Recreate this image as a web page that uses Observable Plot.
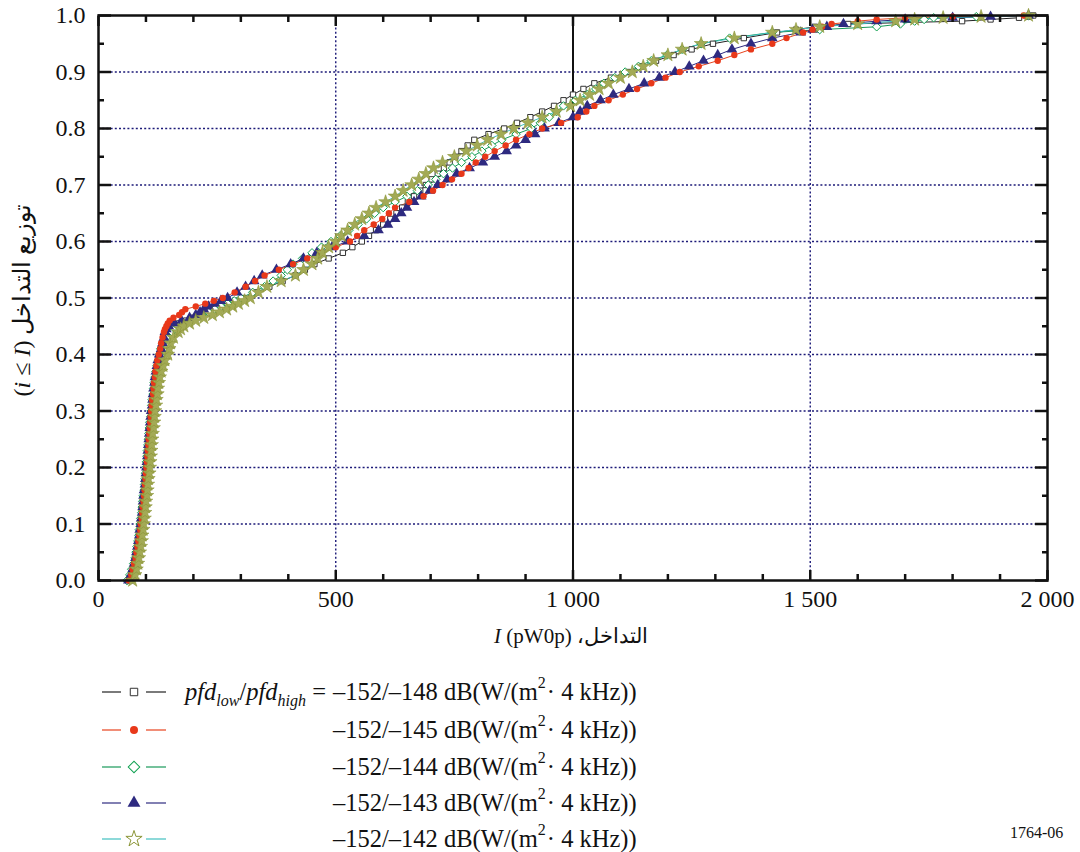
<!DOCTYPE html>
<html>
<head>
<meta charset="utf-8">
<script src="https://cdn.jsdelivr.net/npm/d3@7"></script>
<script src="https://cdn.jsdelivr.net/npm/@observablehq/plot@0.6"></script>
<style>
  html, body { margin: 0; padding: 0; background: #fff; }
  #wrap { position: relative; width: 1080px; height: 852px; overflow: hidden; font-family: "Liberation Serif", "Times New Roman", serif; color: #111; }
  #chart { position: absolute; left: 0; top: 0; }
  .row { position: absolute; left: 0; height: 30px; width: 1080px; }
  .sym { position: absolute; left: 98px; top: 0; }
  .num { position: absolute; left: 333px; top: 0; font-size: 24.5px; line-height: 30px; white-space: nowrap; }
  .pfd { position: absolute; right: 754px; top: 0; font-size: 24.5px; line-height: 30px; white-space: nowrap; }
  .pfd .sb { font-size: 16px; position: relative; top: 6px; font-style: italic; }
  .num .sp { font-size: 16px; position: relative; top: -12px; margin-right: 1px; }
  #code { position: absolute; left: 1010px; top: 823px; font-size: 16px; line-height: 20px; }
</style>
</head>
<body>
<div id="wrap">
  <div id="chart"></div>
  <div id="legend"></div>
  <div id="code">1764-06</div>
</div>
<script>
// ---- data ----
// cumulative probability levels shared by every series
const levels = [
  0.00,0.01,0.02,0.03,0.04,0.05,0.06,0.07,0.08,0.09,0.10,0.11,0.12,0.13,0.14,0.15,0.16,0.17,0.18,0.19,0.20,
  0.21,0.22,0.23,0.24,0.25,0.26,0.27,0.28,0.29,0.30,0.31,0.32,0.33,0.34,0.35,0.36,0.37,0.38,0.39,0.40,
  0.41,0.42,0.43,0.44,
  0.445,0.45,0.455,0.46,0.465,0.47,0.475,0.48,0.485,0.49,0.495,0.50,
  0.51,0.52,0.53,0.54,0.55,0.56,0.57,0.58,0.59,0.60,0.61,0.62,0.63,0.64,0.65,0.66,0.67,0.68,0.69,0.70,
  0.71,0.72,0.73,0.74,0.75,0.76,0.77,0.78,0.79,0.80,0.81,0.82,0.83,0.84,0.85,0.86,0.87,0.88,0.89,0.90,
  0.91,0.92,0.93,0.94,0.95,0.96,0.97,
  0.975,0.98,0.985,0.99,0.993,0.996,0.998,1.00
];

// interference I (pW0p) at each level, per series
const xBlack = [
  65,70,74,77,79,81,83,85,87,88,90,91,93,94,95,96,97,99,100,101,102,
  103,104,105,106,107,108,109,110,111,112,114,115,116,117,119,120,122,124,126,129,
  131,134,139,145,
  151,158,170,185,200,215,230,245,260,275,290,305,
  333,360,388,415,435,455,485,515,535,555,570,585,600,615,628,640,652,665,678,690,
  702,715,728,740,752,765,778,792,822,855,882,910,935,960,980,1000,1022,1045,1080,1115,
  1145,1175,1212,1250,1295,1360,1430,
  1470,1510,1580,1820,1880,1940,1960,1970
];
const xRed = [
  64,69,72,75,78,80,82,84,86,88,89,91,92,93,95,96,97,98,99,100,101,
  102,103,104,105,106,107,108,109,110,111,112,113,115,116,117,119,120,122,124,127,
  130,132,135,138,
  140,143,146,150,158,170,176,183,205,225,243,262,
  287,310,330,350,380,410,440,470,500,530,545,560,580,598,612,625,655,685,705,725,
  745,765,780,795,815,835,858,880,908,935,975,1010,1028,1045,1075,1105,1135,1165,1195,1225,
  1265,1305,1340,1375,1420,1450,1485,
  1505,1525,1545,1600,1640,1700,1800,1950
];
const xGreen = [
  60,66,70,74,77,79,81,83,85,86,88,89,91,92,93,94,96,97,98,99,100,
  101,102,103,104,105,106,107,108,110,111,112,113,115,116,117,119,121,123,126,128,
  131,135,142,155,
  161,168,180,195,207,218,232,245,258,272,286,300,
  325,350,368,385,398,410,430,450,470,490,509,528,547,565,582,600,625,650,672,695,
  711,727,746,765,787,808,829,850,880,912,931,950,965,980,1005,1030,1048,1065,1088,1110,
  1138,1165,1198,1230,1270,1330,1420,
  1520,1640,1690,1720,1740,1760,1850,1960
];
const xBlue = [
  63,68,72,75,78,80,82,84,86,87,89,90,92,93,94,95,96,98,99,100,101,
  102,103,104,105,106,107,108,109,110,111,113,114,115,116,118,119,121,123,125,128,
  132,135,138,140,
  143,148,160,175,192,205,214,222,232,245,258,272,
  292,310,328,345,375,405,432,460,492,525,560,590,610,625,638,650,665,680,698,715,
  735,755,782,810,835,860,880,900,920,940,970,1000,1015,1030,1058,1085,1118,1150,1182,1215,
  1245,1275,1305,1335,1375,1420,1480,
  1505,1535,1570,1640,1700,1800,1880,1960
];
const xOlive = [
  72,77,80,83,85,87,89,91,92,94,95,97,98,99,100,102,103,104,105,107,108,
  109,110,111,112,113,114,116,117,118,119,121,122,124,125,127,129,132,136,140,146,
  149,152,158,168,
  173,180,192,205,222,240,255,270,283,295,308,320,
  337,355,385,415,432,450,462,472,485,500,512,525,540,555,570,585,605,625,642,660,
  675,690,706,725,750,775,798,820,848,875,905,935,965,995,1015,1035,1055,1075,1100,1125,
  1148,1170,1200,1230,1270,1340,1420,
  1470,1520,1600,1680,1720,1780,1860,1960
];

const seriesLabels = ["–152/–148", "–152/–145", "–152/–144", "–152/–143", "–152/–142"];
const xTicks = [0, 500, 1000, 1500, 2000];
const yTicks = [0, 0.1, 0.2, 0.3, 0.4, 0.5, 0.6, 0.7, 0.8, 0.9, 1.0];
const xMinor = [100,200,300,400,600,700,800,900,1100,1200,1300,1400,1600,1700,1800,1900];
const yMinor = [0.05,0.15,0.25,0.35,0.45,0.55,0.65,0.75,0.85,0.95];

// ---- styles ----
const FONT = '"Liberation Serif", "Times New Roman", serif';
const styles = [
  {line: "#222222", symbol: "square2",  fill: "white",   stroke: "#333333", sw: 1.0, r: 3.4},
  {line: "#e8441e", symbol: "circle",   fill: "#e8381a", stroke: "none",    sw: 0,   r: 3.2},
  {line: "#1a9a5a", symbol: "diamond2", fill: "white",   stroke: "#0fa050", sw: 1.0, r: 3.8},
  {line: "#2e2a80", symbol: "triangle", fill: "#2e2a80", stroke: "none",    sw: 0,   r: 4.0},
  {line: "#40c0c0", symbol: "star",     fill: "#a3aa55", stroke: "#8c9638", sw: 0.6, r: 4.3}
];
const xs = [xBlack, xRed, xGreen, xBlue, xOlive];
const rows = xs.map((arr, s) => {
  const n = Math.min(arr.length, levels.length);
  return arr.slice(0, n).map((x, i) => ({series: s, x, y: levels[i]}));
});
const drawOrder = [0, 2, 3, 1, 4];

const grid = {stroke: "#1c1a78", strokeOpacity: 1, strokeWidth: 1.4, strokeDasharray: "2,2.2"};
const marks = [
  Plot.gridY(yTicks.filter(v => v > 0 && v < 1), grid),
  Plot.gridX([500, 1500], grid),
  Plot.ruleX([1000], {stroke: "#111", strokeWidth: 2})
];
for (const s of drawOrder) {
  marks.push(Plot.line(rows[s], {x: "x", y: "y", stroke: styles[s].line, strokeWidth: 1}));
}
for (const s of drawOrder) {
  const st = styles[s];
  marks.push(Plot.dot(rows[s], {x: "x", y: "y", symbol: () => st.symbol, r: st.r, fill: st.fill, stroke: st.stroke, strokeWidth: st.sw}));
}
const tk = {tickFormat: () => "", strokeWidth: 2.5, label: null};
marks.push(
  Plot.frame({stroke: "#111", strokeWidth: 2.5}),
  Plot.axisY({anchor: "left", ticks: yMinor, tickSize: -6, ...tk}),
  Plot.axisY({anchor: "left", ticks: yTicks, tickSize: -13, ...tk}),
  Plot.axisY({anchor: "right", ticks: yMinor, tickSize: -6, ...tk}),
  Plot.axisY({anchor: "right", ticks: yTicks, tickSize: -13, ...tk}),
  Plot.axisX({anchor: "bottom", ticks: xMinor, tickSize: -6, ...tk}),
  Plot.axisX({anchor: "bottom", ticks: xTicks, tickSize: -10, ...tk}),
  Plot.axisX({anchor: "top", ticks: xMinor, tickSize: -6, ...tk}),
  Plot.axisX({anchor: "top", ticks: xTicks, tickSize: -10, ...tk}),
  Plot.axisY({anchor: "left", ticks: yTicks, tickSize: 0, tickPadding: 13, tickFormat: d3.format(".1f"), fontSize: 24, label: null}),
  Plot.axisX({anchor: "bottom", ticks: xTicks, tickSize: 0, tickPadding: 9, tickFormat: d => d3.format(",")(d).replace(/,/g, " "), fontSize: 24, label: null})
);

const svg = Plot.plot({
  width: 1080,
  height: 650,
  marginLeft: 98,
  marginRight: 33,
  marginTop: 15,
  marginBottom: 70,
  x: {domain: [0, 2000]},
  y: {domain: [0, 1]},
  style: {fontFamily: FONT, fontSize: "24px", color: "#111", background: "white", overflow: "visible"},
  marks
});
document.getElementById("chart").appendChild(svg);

// axis titles
const sel = d3.select(svg);
const xt = sel.append("text")
  .attr("x", 571).attr("y", 643)
  .attr("text-anchor", "middle")
  .style("font-family", FONT).style("font-size", "21px").attr("fill", "#111");
xt.append("tspan").attr("font-style", "italic").text("I");
xt.append("tspan").text(" (pW0p) ،التداخل");

const yt = sel.append("text")
  .attr("transform", "translate(30,300) rotate(-90)")
  .attr("text-anchor", "middle")
  .style("font-family", FONT).style("font-size", "24px").attr("fill", "#111");
yt.append("tspan").text("(");
yt.append("tspan").attr("font-style", "italic").text("i");
yt.append("tspan").text(" ≤ ");
yt.append("tspan").attr("font-style", "italic").text("I");
yt.append("tspan").text(") توزيع التداخل");

// legend
const legend = document.getElementById("legend");
const rowCenters = [692, 730, 767, 803, 839];
styles.forEach((st, i) => {
  const row = document.createElement("div");
  row.className = "row";
  row.style.top = (rowCenters[i] - 15) + "px";
  const sym = d3.create("svg").attr("width", 80).attr("height", 30).attr("class", "sym");
  sym.append("line").attr("x1", 4).attr("x2", 23).attr("y1", 15).attr("y2", 15).attr("stroke", st.line).attr("stroke-width", 1.2);
  sym.append("line").attr("x1", 48).attr("x2", 68).attr("y1", 15).attr("y2", 15).attr("stroke", st.line).attr("stroke-width", 1.2);
  const symType = {square2: d3.symbolSquare, circle: d3.symbolCircle, diamond2: d3.symbolSquare, triangle: d3.symbolTriangle, star: d3.symbolStar}[st.symbol];
  const size = Math.PI * (st.r + 0.8) * (st.r + 0.8);
  sym.append("path")
    .attr("d", d3.symbol(symType, size)())
    .attr("transform", "translate(36,15)" + (st.symbol === "diamond2" ? " rotate(45)" : ""))
    .attr("fill", st.symbol === "star" ? "none" : st.fill)
    .attr("stroke", st.symbol === "star" ? "#8c9638" : st.stroke)
    .attr("stroke-width", st.symbol === "star" ? 1 : st.sw);
  row.appendChild(sym.node());
  if (i === 0) {
    const p = document.createElement("span");
    p.className = "pfd";
    p.innerHTML = "<i>pfd</i><span class='sb'>low</span>/<i>pfd</i><span class='sb'>high</span> =";
    row.appendChild(p);
  }
  const n = document.createElement("span");
  n.className = "num";
  n.innerHTML = seriesLabels[i] + " dB(W/(m<span class='sp'>2</span>· 4 kHz))";
  row.appendChild(n);
  legend.appendChild(row);
});
</script>
</body>
</html>
